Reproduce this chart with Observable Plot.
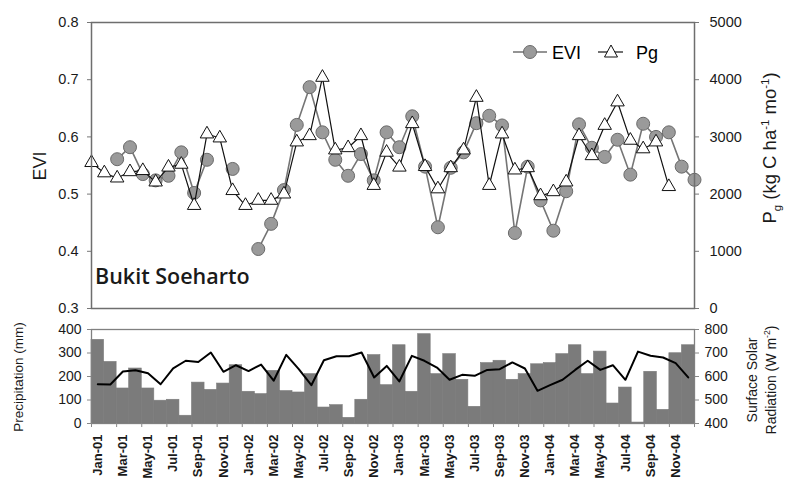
<!DOCTYPE html>
<html>
<head>
<meta charset="utf-8">
<script src="https://cdn.jsdelivr.net/npm/d3@7"></script>
<script src="https://cdn.jsdelivr.net/npm/@observablehq/plot@0.6"></script>
<style>
  html, body { margin: 0; padding: 0; background: #fff; }
  #wrap { position: relative; width: 785px; height: 488px; overflow: hidden; font-family: "Liberation Sans", Arial, sans-serif; color: #1a1a1a; }
  #wrap svg { display: block; }
  .abs { position: absolute; }
  .rot { position: absolute; white-space: nowrap; transform: translate(-50%, -50%) rotate(-90deg); }
  sub, sup { font-size: 0.62em; line-height: 0; }
</style>
</head>
<body>
<div id="wrap">
  <div id="topPlot" class="abs" style="left:0;top:0"></div>
  <div id="botPlot" class="abs" style="left:0;top:318px"></div>
  <div class="rot" style="left:40px;top:166px;font-size:18px">EVI</div>
  <div class="rot" style="left:770px;top:148px;font-size:18.5px">P<sub>g</sub> (kg C ha<sup>-1</sup> mo<sup>-1</sup>)</div>
  <div class="rot" style="left:18px;top:377px;font-size:13.5px">Precipitation (mm)</div>
  <div class="rot" style="left:762px;top:380px;font-size:14px;line-height:19px;text-align:center">Surface Solar<br>Radiation (W m<sup>-2</sup>)</div>
  <div class="abs" style="left:95px;top:261px;font-family:'Open Sans',sans-serif;font-weight:600;font-size:21.5px">Bukit Soeharto</div>
  <svg class="abs" style="left:505px;top:38px" width="170" height="30">
    <line x1="8" x2="42" y1="14" y2="14" stroke="#707070" stroke-width="1.6"/>
    <circle cx="25" cy="14" r="6.5" fill="#9a9a9a" stroke="#6a6a6a"/>
    <text x="47" y="21" font-size="18" font-family="Liberation Sans, Arial, sans-serif">EVI</text>
    <line x1="93" x2="118" y1="14" y2="14" stroke="#111" stroke-width="1.2"/>
    <path d="M106,7 L112.5,19 L99.5,19 Z" fill="#fff" stroke="#111"/>
    <text x="131" y="21" font-size="18" font-family="Liberation Sans, Arial, sans-serif">Pg</text>
  </svg>
</div>
<script>
// ---- data ----
const months = ["Jan-01","Feb-01","Mar-01","Apr-01","May-01","Jun-01","Jul-01","Aug-01","Sep-01","Oct-01","Nov-01","Dec-01",
                "Jan-02","Feb-02","Mar-02","Apr-02","May-02","Jun-02","Jul-02","Aug-02","Sep-02","Oct-02","Nov-02","Dec-02",
                "Jan-03","Feb-03","Mar-03","Apr-03","May-03","Jun-03","Jul-03","Aug-03","Sep-03","Oct-03","Nov-03","Dec-03",
                "Jan-04","Feb-04","Mar-04","Apr-04","May-04","Jun-04","Jul-04","Aug-04","Sep-04","Oct-04","Nov-04","Dec-04"];
const evi = [null, null, 0.561, 0.582, 0.535, 0.524, 0.532, 0.573, 0.502, 0.560, null, 0.544,
             null, 0.404, 0.448, 0.507, 0.621, 0.687, 0.608, 0.560, 0.532, 0.570, 0.524, 0.608,
             0.582, 0.636, 0.548, 0.442, 0.546, 0.573, 0.624, 0.637, 0.620, 0.432, 0.548, 0.489,
             0.436, 0.505, 0.622, 0.581, 0.565, 0.595, 0.534, 0.623, 0.600, 0.608, 0.548, 0.525];
const pg = [2550, 2370, 2280, 2390, 2410, 2210, 2470, 2520, 1800, 3050, 2980, 2060,
            1800, 1890, 1890, 2000, 2910, 3020, 4040, 2770, 2810, 3020, 2150, 2730,
            2470, 3230, 2480, 2090, 2460, 2770, 3690, 2150, 3050, 2420, 2460, 1970,
            2040, 2210, 3020, 2670, 3200, 3610, 2940, 2790, 2910, 2130, null, null];
const precip = [356, 262, 149, 234, 149, 97, 101, 33, 174, 143, 170, 248,
                135, 125, 224, 138, 132, 210, 68, 78, 24, 101, 291, 163,
                333, 135, 380, 210, 295, 186, 71, 257, 267, 186, 210, 252,
                257, 295, 333, 210, 306, 85, 153, 4, 220, 58, 299, 333];
const solar = [567, 566, 621, 627, 614, 567, 635, 667, 662, 702, 620, 648,
               623, 651, 582, 692, 631, 563, 669, 686, 686, 702, 596, 645,
               579, 688, 667, 638, 586, 607, 603, 628, 631, 660, 634, 539,
               563, 586, 628, 667, 628, 648, 586, 706, 688, 681, 657, 596];
const eviTicks = [0.3, 0.4, 0.5, 0.6, 0.7, 0.8];
const pgTicks = [0, 1000, 2000, 3000, 4000, 5000];
const precipTicks = [0, 100, 200, 300, 400];
const solarTicks = [400, 500, 600, 700, 800];

// ---- tables ----
const rows = months.map((m, i) => ({i, month: m, evi: evi[i], pg: pg[i], precip: precip[i], solar: solar[i]}));
const pgToEvi = p => 0.3 + p / 10000;     // right axis 0–5000 ↔ left 0.3–0.8
const solToPre = s => s - 400;            // right axis 400–800 ↔ left 0–400
const font = "Liberation Sans, Arial, sans-serif";

const topChart = Plot.plot({
  width: 785, height: 318,
  marginLeft: 91, marginRight: 91, marginTop: 22, marginBottom: 10,
  style: {fontFamily: font, background: "transparent", color: "#1a1a1a"},
  x: {domain: [0, 47], axis: null},
  y: {domain: [0.3, 0.8], axis: null},
  marks: [
    Plot.axisY({ticks: eviTicks, tickFormat: d => d.toFixed(1), tickSize: 4, tickPadding: 9, fontSize: 14.5, label: null, stroke: "#777"}),
    Plot.axisY({anchor: "right", ticks: pgTicks.map(pgToEvi), tickFormat: d => String(Math.round((d - 0.3) * 10000)), tickSize: 4, tickPadding: 11, fontSize: 14.5, label: null, stroke: "#777"}),
    Plot.line(rows, {x: "i", y: "evi", stroke: "#757575", strokeWidth: 1.6, defined: d => d.evi != null}),
    Plot.dot(rows.filter(d => d.evi != null), {x: "i", y: "evi", r: 6.5, fill: "#9a9a9a", stroke: "#6a6a6a", strokeWidth: 1}),
    Plot.line(rows.filter(d => d.pg != null), {x: "i", y: d => pgToEvi(d.pg), stroke: "#111", strokeWidth: 1.2}),
    Plot.dot(rows.filter(d => d.pg != null), {x: "i", y: d => pgToEvi(d.pg), symbol: "triangle", r: 5, fill: "#fff", stroke: "#111", strokeWidth: 1}),
    Plot.frame({stroke: "#6e6e6e", strokeWidth: 1.5})
  ]
});
document.getElementById("topPlot").append(topChart);

const labelIdx = d3.range(0, 48, 2);
const botChart = Plot.plot({
  width: 785, height: 170,
  marginLeft: 91, marginRight: 91, marginTop: 11, marginBottom: 65,
  style: {fontFamily: font, background: "transparent", color: "#1a1a1a"},
  x: {domain: [0, 48], axis: null},
  y: {domain: [0, 400], axis: null},
  marks: [
    Plot.rectY(rows, {x1: "i", x2: d => d.i + 1, y: "precip", fill: "#7b7b7b", stroke: "#7b7b7b", strokeWidth: 0.6}),
    Plot.line(rows, {x: d => d.i + 0.5, y: d => solToPre(d.solar), stroke: "#000", strokeWidth: 2}),
    Plot.frame({stroke: "#808080", strokeWidth: 1.3}),
    Plot.axisY({ticks: precipTicks, tickSize: 4, tickPadding: 6, fontSize: 14, label: null, stroke: "#888"}),
    Plot.axisY({anchor: "right", ticks: solarTicks.map(solToPre), tickFormat: d => String(d + 400), tickSize: 4, tickPadding: 6, fontSize: 14, label: null, stroke: "#888"}),
    Plot.axisX({ticks: d3.range(0, 49, 2), tickFormat: () => "", tickSize: 4, label: null, stroke: "#888"}),
    Plot.axisX({ticks: labelIdx.map(i => i + 0.5), tickFormat: d => months[Math.floor(d)], tickRotate: -90, tickSize: 0, tickPadding: 11, fontSize: 13, fontWeight: "bold", label: null})
  ]
});
document.getElementById("botPlot").append(botChart);
</script>
</body>
</html>
